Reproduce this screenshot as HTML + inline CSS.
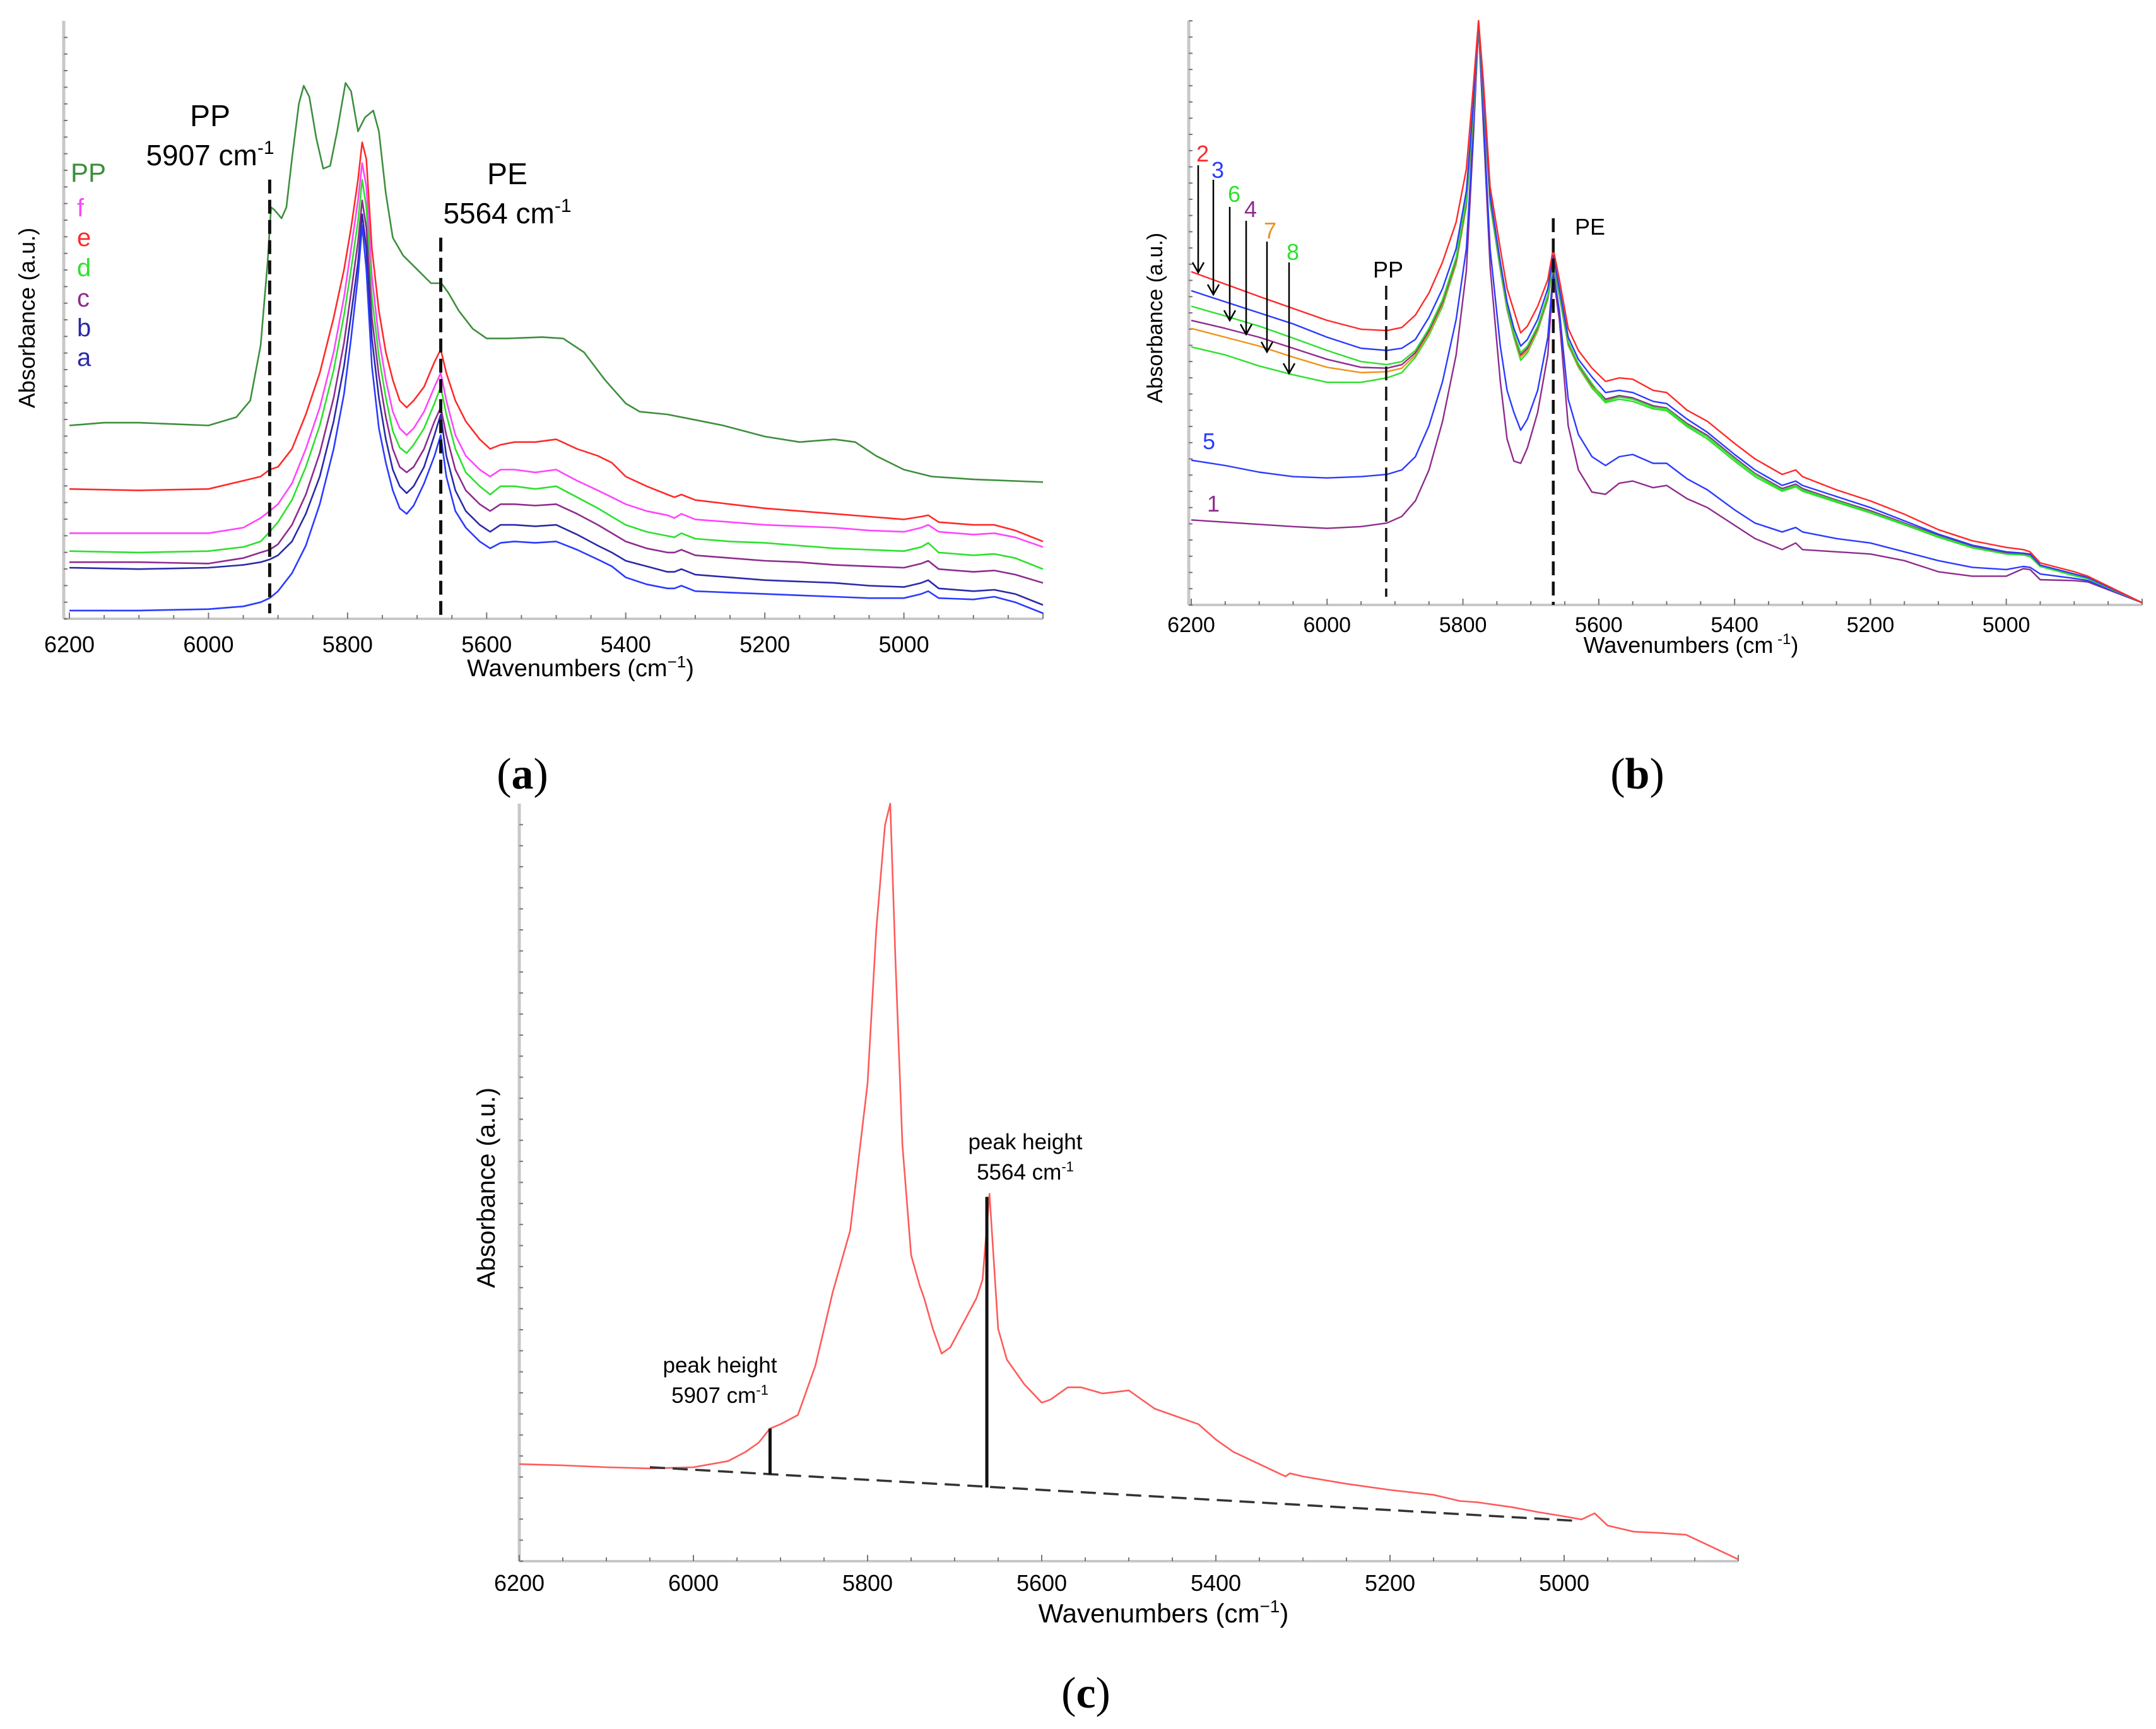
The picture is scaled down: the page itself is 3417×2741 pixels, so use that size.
<!DOCTYPE html>
<html><head><meta charset="utf-8"><style>
html,body{margin:0;padding:0;background:#fff}
svg{display:block}
text{font-family:"Liberation Sans",sans-serif}
.pl{font-family:"Liberation Serif",serif;font-size:70px}
</style></head><body>
<svg id="fig" width="3417" height="2741" viewBox="0 0 3417 2741">
<g id="pa"></g>
<g id="pb"></g>
<g id="pc"></g>
<text class="pl" x="828" y="1250" text-anchor="middle">(<tspan font-weight="bold">a</tspan>)</text>
<text class="pl" x="2595" y="1250" text-anchor="middle">(<tspan font-weight="bold">b</tspan>)</text>
<text class="pl" x="1721" y="2707" text-anchor="middle">(<tspan font-weight="bold">c</tspan>)</text>
</svg>
<script>
// ---------- Panel A data (absorbance read as plot units, larger = lower on plot) ----------
const aWave=[6200,6100,6000,5950,5925,5912,5900,5880,5860,5840,5820,5805,5795,5785,5779,5773,5765,5755,5745,5735,5725,5715,5705,5690,5675,5666,5658,5645,5630,5610,5595,5580,5560,5530,5500,5470,5440,5420,5400,5370,5340,5330,5320,5300,5250,5200,5150,5100,5050,5000,4975,4965,4950,4900,4870,4840,4800];
const aE=[354,355,354,348,345,340,338,325,300,270,230,195,165,130,103,115,180,225,255,275,290,295,290,280,262,253,270,290,305,318,325,322,320,320,318,325,330,335,345,352,358,360,358,362,365,368,370,372,374,376,374,373,378,380,380,384,392];
const aF=[386,386,386,382,375,370,365,350,325,295,255,215,180,145,118,135,200,245,275,298,310,315,310,298,280,270,290,315,330,340,345,340,340,342,340,348,355,360,365,370,373,375,372,376,378,380,381,382,384,385,382,380,385,387,386,389,396];
const aD=[399,400,399,396,392,385,378,362,338,308,268,228,195,160,130,150,215,258,288,312,324,328,322,310,292,280,300,325,342,352,358,352,352,354,352,360,368,374,380,385,388,389,386,390,392,393,395,397,398,399,396,393,400,402,401,404,412];
const aC=[407,407,408,404,400,398,394,380,358,328,288,248,212,175,145,165,230,272,302,325,338,342,338,325,305,295,315,340,355,365,370,365,365,366,365,372,380,386,392,397,400,400,398,402,404,406,407,409,410,411,408,406,412,414,413,416,422];
const aB=[411,412,411,409,407,405,402,392,372,345,305,265,228,190,155,180,245,288,318,340,352,357,352,338,315,300,330,355,370,380,385,380,380,381,380,387,395,400,406,410,414,414,412,416,418,420,421,422,424,425,422,420,426,428,427,430,438];
const aA=[442,442,441,439,436,433,428,415,395,365,325,285,245,200,163,195,265,310,335,355,368,372,366,350,330,315,345,370,382,392,397,393,392,393,392,398,405,410,418,423,426,426,424,428,429,430,431,432,433,433,430,428,433,434,432,436,444];
const ppWave=[6200,6150,6100,6050,6000,5960,5940,5925,5915,5910,5905,5895,5888,5880,5870,5863,5855,5845,5835,5825,5815,5803,5795,5785,5775,5763,5755,5745,5735,5720,5700,5680,5665,5655,5640,5620,5600,5570,5520,5490,5460,5430,5400,5380,5340,5300,5260,5230,5200,5150,5100,5070,5040,5000,4960,4900,4800];
const aPP=[308,306,306,307,308,302,290,250,190,150,152,158,150,115,75,62,70,100,122,120,95,60,66,95,85,80,95,140,172,185,195,205,205,212,225,238,245,245,244,245,255,275,292,298,300,304,308,312,316,320,318,320,330,340,345,347,349];
const aTicks=[6200,6000,5800,5600,5400,5200,5000];
const aMarkers=[5912,5666];

// ---------- Panel B data ----------
const bWave=[6200,6150,6100,6050,6000,5950,5912,5890,5870,5850,5830,5810,5795,5785,5777,5770,5760,5745,5735,5725,5715,5705,5690,5675,5667,5658,5645,5630,5610,5590,5570,5550,5520,5500,5470,5440,5400,5370,5330,5310,5300,5250,5200,5150,5100,5050,5000,4975,4965,4950,4900,4880,4800];
const b2=[612,640,668,695,722,742,745,738,710,660,590,500,380,200,45,180,420,560,650,700,750,735,690,630,560,630,740,790,830,860,852,855,880,885,925,950,1000,1035,1070,1060,1075,1105,1130,1160,1195,1220,1235,1240,1245,1270,1290,1300,1360];
const b3=[655,680,705,730,760,785,790,785,765,715,650,560,430,240,45,200,440,590,680,740,780,765,720,650,575,650,760,810,850,885,880,885,905,910,945,975,1025,1060,1095,1085,1095,1120,1145,1175,1205,1230,1245,1248,1250,1275,1295,1303,1360];
const b6=[690,712,735,762,790,815,822,815,790,740,675,580,450,255,48,210,450,600,690,750,795,780,735,665,585,660,770,820,865,905,895,900,918,922,958,985,1035,1070,1105,1095,1105,1130,1155,1182,1210,1235,1250,1252,1255,1278,1298,1305,1360];
const b4=[722,740,760,785,810,828,830,822,795,745,680,585,455,260,50,212,452,602,692,752,800,785,738,668,590,662,772,822,868,900,892,897,915,920,955,982,1032,1068,1102,1092,1102,1128,1152,1180,1208,1233,1248,1250,1253,1276,1297,1304,1360];
const b7=[740,760,780,805,828,840,838,830,800,750,685,590,460,265,52,215,455,605,695,755,805,790,742,672,595,665,775,825,870,903,895,900,918,922,958,985,1035,1070,1104,1094,1104,1130,1154,1182,1210,1234,1249,1251,1254,1277,1298,1305,1360];
const b8=[782,800,825,845,862,862,852,840,805,755,690,595,465,270,55,218,458,608,698,760,812,795,746,675,598,668,778,828,875,908,900,905,922,926,962,990,1040,1075,1108,1098,1108,1133,1157,1184,1212,1236,1250,1252,1256,1278,1299,1306,1360];
const b5=[1038,1050,1065,1075,1078,1075,1070,1060,1030,960,860,720,560,300,50,260,560,780,880,930,970,945,880,760,610,700,900,980,1030,1050,1030,1025,1045,1045,1080,1105,1150,1180,1200,1190,1200,1215,1225,1245,1265,1280,1285,1278,1280,1295,1305,1310,1360];
const b1=[1173,1178,1183,1188,1192,1188,1180,1165,1130,1060,950,800,610,320,55,280,600,860,990,1040,1045,1010,930,800,620,720,960,1060,1110,1115,1090,1085,1100,1095,1125,1145,1185,1215,1240,1225,1240,1245,1250,1265,1290,1300,1300,1283,1285,1308,1310,1313,1360];
const bTicks=[6200,6000,5800,5600,5400,5200,5000];

// ---------- Panel C data ----------
const cWave=[6200,6150,6100,6050,6000,5960,5940,5925,5912,5900,5880,5860,5840,5820,5800,5790,5780,5774,5768,5760,5750,5740,5735,5725,5715,5705,5690,5675,5668,5660,5650,5640,5620,5600,5590,5570,5555,5530,5500,5490,5470,5440,5420,5400,5380,5350,5320,5315,5300,5250,5200,5150,5120,5100,5060,5030,5000,4980,4965,4950,4920,4890,4860,4830,4800];
const cVal=[1120,1122,1125,1127,1125,1115,1100,1085,1062,1055,1040,960,840,740,500,250,80,45,300,600,780,830,850,900,940,930,890,850,820,680,900,950,990,1020,1015,995,995,1005,1000,1010,1030,1045,1055,1080,1100,1120,1140,1135,1140,1152,1162,1170,1180,1182,1190,1198,1205,1210,1200,1220,1230,1232,1235,1255,1275];
const cBaseWave=[6050,4990];
const cBaseVal=[1125,1212];
const cPeakWave=[5912,5663];
const cPeakTop=[1062,685];
const cPeakBot=[1137,1158];
const cTicks=[6200,6000,5800,5600,5400,5200,5000];

const NS="http://www.w3.org/2000/svg";
function lin(d0,d1,r0,r1){return v=>r0+(v-d0)/(d1-d0)*(r1-r0);}
function el(parent,tag,attrs){const e=document.createElementNS(NS,tag);for(const k in attrs)e.setAttribute(k,attrs[k]);parent.appendChild(e);return e;}
function line(parent,xs,ys,xS,yS,color,w){
  let d="";for(let i=0;i<xs.length;i++){d+=(i?"L":"M")+xS(xs[i]).toFixed(1)+" "+yS(ys[i]).toFixed(1);}
  return el(parent,"path",{d:d,fill:"none",stroke:color,"stroke-width":w,"stroke-linejoin":"round"});
}
function txt(parent,x,y,s,size,attrs){const t=el(parent,"text",Object.assign({x:x,y:y,"font-size":size},attrs||{}));t.textContent=s;return t;}
function axes(g,x0,x1,yTop,yBot,xS,ticks,tickY,fs,prefix){
  const ax=el(g,"line",{x1:x0,y1:yTop,x2:x0,y2:yBot,stroke:"#c8c8c8","stroke-width":5});
  
  
  const bx=el(g,"line",{x1:x0,y1:yBot,x2:x1,y2:yBot,stroke:"#c8c8c8","stroke-width":4});
  
  
  for(let y=yBot;y>yTop;y-=((yBot-yTop)/36)){el(g,"line",{x1:x0,y1:y,x2:x0+6,y2:y,stroke:"#777","stroke-width":2});}
  for(let w=6200;w>=4800;w-=50){const x=xS(w);el(g,"line",{x1:x,y1:yBot,x2:x,y2:yBot-(w%200===0?10:6),stroke:"#777","stroke-width":2});}
  ticks.forEach(t=>{const tl=txt(g,xS(t),tickY,String(t),fs,{"text-anchor":"middle"});
    
    });
}
function dashed(g,x,y1,y2,w,name){const l=el(g,"line",{x1:x,y1:y1,x2:x,y2:y2,stroke:"#111","stroke-width":w,"stroke-dasharray":"22 10"});
  
  }

// ===== Panel A =====
(function(){
const g=document.getElementById("pa");
const xS=lin(6200,4800,110,1653), yS=lin(448,15,981,33);
axes(g,101,1653,33,981,xS,aTicks,1034,36,"panel-a");
const xt=txt(g,920,1072,"Wavenumbers (cm",38,{"text-anchor":"middle"});
const sup=el(xt,"tspan",{dy:-14,"font-size":26});sup.textContent="−1";
const cl=el(xt,"tspan",{dy:14});cl.textContent=")";


const yt=txt(g,0,0,"Absorbance  (a.u.)",36,{"text-anchor":"middle",transform:"translate(55,504) rotate(-90)"});


const series=[[ppWave,aPP,"#3d8f3d","pp"],[aWave,aE,"#ff2a2a","e"],[aWave,aF,"#ff44ff","f"],[aWave,aD,"#2ee02e","d"],[aWave,aC,"#8e2c8e","c"],[aWave,aB,"#2a2aa8","b"],[aWave,aA,"#2b3bff","a"]];
series.forEach(s=>{const p=line(g,s[0],s[1],xS,yS,s[2],2.6);
  
  });
dashed(g,xS(aMarkers[0]),yS(130),yS(444),5,"panel-a-pp-marker");
dashed(g,xS(aMarkers[1]),yS(172),yS(446),5,"panel-a-pe-marker");
const labs=[["PP",333,200,48],["PE",804,292,48]];
labs.forEach(l=>{const t=txt(g,l[1],l[2],l[0],l[3],{"text-anchor":"middle"});
  
  });
[["5907 cm",333,262],["5564 cm",804,354]].forEach(l=>{const t=txt(g,l[1],l[2],l[0],46,{"text-anchor":"middle"});
  const s=el(t,"tspan",{dy:-18,"font-size":30});s.textContent="-1";
  
  });
const leg=[["PP","#3d8f3d",288],["f","#ff44ff",343],["e","#ff2a2a",390],["d","#2ee02e",438],["c","#8e2c8e",486],["b","#2a2aa8",533],["a","#2a2aa8",580]];
leg.forEach(l=>{const t=txt(g,l[0]==="PP"?112:122,l[2],l[0],l[0]==="PP"?42:40,{fill:l[1]});
  
  });
})();

// ===== Panel B =====
(function(){
const g=document.getElementById("pb");
const xS=lin(6200,4800,1888,3395), yS=lin(1365,45,959,33);
axes(g,1884,3395,33,959,xS,bTicks,1002,34,"panel-b");
const xt=txt(g,2680,1035,"Wavenumbers (cm",36,{"text-anchor":"middle"});
const sup=el(xt,"tspan",{dy:-14,"font-size":24});sup.textContent=" -1";
const cl=el(xt,"tspan",{dy:14});cl.textContent=")";


const yt=txt(g,0,0,"Absorbance  (a.u.)",34,{"text-anchor":"middle",transform:"translate(1842,504) rotate(-90)"});


const series=[[b1,"#8e2c8e","1"],[b5,"#2b3bff","5"],[b8,"#2ee02e","8"],[b7,"#f0921c","7"],[b4,"#8e2c8e","4"],[b6,"#2ee02e","6"],[b3,"#2b3bff","3"],[b2,"#ff2a2a","2"]];
series.forEach(s=>{const p=line(g,bWave,s[0],xS,yS,s[1],2.4);
  
  });
dashed(g,xS(5913),453,946,3.5,"panel-b-pp-marker");
dashed(g,xS(5667),346,959,4.5,"panel-b-pe-marker");
const pp=txt(g,2200,440,"PP",36,{"text-anchor":"middle"});


const pe=txt(g,2520,372,"PE",36,{"text-anchor":"middle"});


const nums=[["2","#ff2a2a",1906,256],["3","#2b3bff",1930,282],["6","#2ee02e",1956,320],["4","#8e2c8e",1982,344],["7","#f0921c",2013,378],["8","#2ee02e",2049,412],["5","#2b3bff",1916,712],["1","#8e2c8e",1923,811]];
nums.forEach(n=>{const t=txt(g,n[2],n[3],n[0],36,{"text-anchor":"middle",fill:n[1]});
  
  });
const arr=[[1899,262,432],[1923,285,467],[1949,328,508],[1975,350,530],[2008,383,558],[2043,416,592]];
arr.forEach(a=>{const l=el(g,"line",{x1:a[0],y1:a[1],x2:a[0],y2:a[2],stroke:"#000","stroke-width":2.5});
  
  
  el(g,"path",{d:"M"+(a[0]-9)+" "+(a[2]-16)+"L"+a[0]+" "+a[2]+"L"+(a[0]+9)+" "+(a[2]-16),fill:"none",stroke:"#000","stroke-width":2.5});});
})();

// ===== Panel C =====
(function(){
const g=document.getElementById("pc");
const xS=lin(6200,4800,823,2755), yS=lin(1278,45,2475,1274);
axes(g,823,2755,1274,2475,xS,cTicks,2522,36,"panel-c");
const xt=txt(g,1844,2572,"Wavenumbers (cm",42,{"text-anchor":"middle"});
const sup=el(xt,"tspan",{dy:-16,"font-size":28});sup.textContent="−1";
const cl=el(xt,"tspan",{dy:16});cl.textContent=")";


const yt=txt(g,0,0,"Absorbance  (a.u.)",40,{"text-anchor":"middle",transform:"translate(784,1883) rotate(-90)"});


const p=line(g,cWave,cVal,xS,yS,"#ff5a5a",2.6);


const b=el(g,"line",{x1:xS(cBaseWave[0]),y1:yS(cBaseVal[0]),x2:xS(cBaseWave[1]),y2:yS(cBaseVal[1]),stroke:"#333","stroke-width":3.5,"stroke-dasharray":"24 12"});


cPeakWave.forEach((w,i)=>{const l=el(g,"line",{x1:xS(w),y1:yS(cPeakTop[i]),x2:xS(w),y2:yS(cPeakBot[i]),stroke:"#111","stroke-width":5});
  
  });
[["peak height",1141,2176],["peak height",1625,1822]].forEach(l=>{const t=txt(g,l[1],l[2],l[0],35,{"text-anchor":"middle"});
  
  });
[["5907 cm",1141,2224],["5564 cm",1625,1870]].forEach(l=>{const t=txt(g,l[1],l[2],l[0],35,{"text-anchor":"middle"});
  const s=el(t,"tspan",{dy:-13,"font-size":22});s.textContent="-1";
  
  });
})();
</script>
</body></html>
